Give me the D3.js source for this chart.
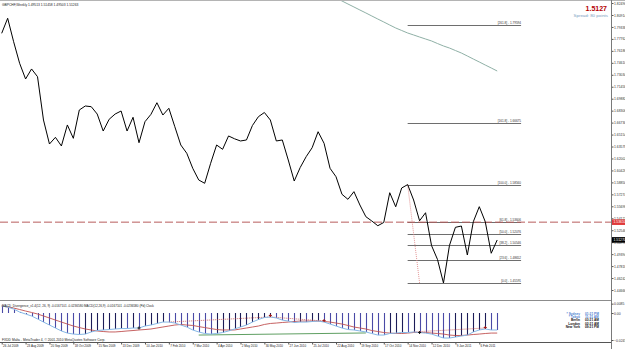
<!DOCTYPE html>
<html>
<head>
<meta charset="utf-8">
<script src="https://cdn.jsdelivr.net/npm/d3@7"></script>
<style>
  html, body { margin: 0; padding: 0; background: #fff; }
  svg { display: block; font-family: "Liberation Sans", Arial, sans-serif; }
</style>
</head>
<body>
<svg id="chart" width="625" height="349"></svg>
<script>
// Weekly closes GBPCHF, 26 Jul 2009 .. 13 Feb 2011
const closes = [
  1.7850, 1.8048, 1.7739, 1.7455, 1.7248, 1.7380, 1.7278, 1.6707, 1.6391, 1.6479,
  1.6365, 1.6642, 1.6466, 1.6839, 1.6892, 1.6883, 1.6786, 1.6562, 1.6717, 1.6786,
  1.6826, 1.6562, 1.6743, 1.6408, 1.6685, 1.6782, 1.6935, 1.6773, 1.6862, 1.6619,
  1.6378, 1.6269, 1.6071, 1.5917, 1.5873, 1.6137, 1.6378, 1.6321, 1.6497, 1.6460,
  1.6431, 1.6444, 1.6635, 1.6751, 1.6806, 1.6707, 1.6431, 1.6444, 1.6180, 1.5903,
  1.6081, 1.6224, 1.6342, 1.6553, 1.6400, 1.6071, 1.5960, 1.5728, 1.5662, 1.5763,
  1.5587, 1.5433, 1.5376, 1.5314, 1.5357, 1.5749, 1.5564, 1.5811, 1.5856, 1.5653,
  1.5379, 1.5485, 1.5053, 1.4869, 1.4559, 1.5053, 1.5293, 1.5310, 1.4928, 1.5367,
  1.5565, 1.5367, 1.4951, 1.5126
];

// long moving average, only visible from week 56 on
const maStart = 56;
const maValues = [
  1.8315, 1.8276, 1.8236, 1.8197, 1.8157, 1.8118, 1.8078, 1.8038, 1.7999, 1.7959,
  1.7920, 1.7887, 1.7854, 1.7828, 1.7801, 1.7775, 1.7749, 1.7715, 1.7683, 1.7656,
  1.7623, 1.7590, 1.7551, 1.7511, 1.7472, 1.7432, 1.7393, 1.7353
];

// MACD window
const macdMain = [
  0.0064, 0.0054, 0.0036, 0.0009, -0.0009, -0.0027, -0.0054, -0.0082, -0.0109, -0.0136,
  -0.0163, -0.0182, -0.0191, -0.0195, -0.0191, -0.0172, -0.0159, -0.0154, -0.0150, -0.0145,
  -0.0141, -0.0141, -0.0136, -0.0136, -0.0118, -0.0109, -0.0095, -0.0082, -0.0082, -0.0091,
  -0.0109, -0.0127, -0.0154, -0.0172, -0.0186, -0.0191, -0.0186, -0.0177, -0.0163, -0.0145,
  -0.0127, -0.0109, -0.0082, -0.0059, -0.0041, -0.0036, -0.0045, -0.0064, -0.0073, -0.0086,
  -0.0082, -0.0082, -0.0077, -0.0073, -0.0082, -0.0100, -0.0118, -0.0136, -0.0150, -0.0154,
  -0.0163, -0.0172, -0.0186, -0.0200, -0.0200, -0.0186, -0.0182, -0.0177, -0.0177, -0.0172,
  -0.0177, -0.0182, -0.0191, -0.0209, -0.0227, -0.0227, -0.0218, -0.0209, -0.0200, -0.0172,
  -0.0154, -0.0145, -0.0154, -0.0154
];
const macdSignal = [
  0.0064, 0.0054, 0.0045, 0.0032, 0.0018, 0.0005, -0.0009, -0.0027, -0.0045, -0.0064,
  -0.0082, -0.0100, -0.0118, -0.0132, -0.0145, -0.0154, -0.0163, -0.0168, -0.0172, -0.0172,
  -0.0168, -0.0163, -0.0159, -0.0154, -0.0150, -0.0145, -0.0136, -0.0127, -0.0118, -0.0109,
  -0.0104, -0.0109, -0.0113, -0.0123, -0.0132, -0.0141, -0.0150, -0.0154, -0.0154, -0.0154,
  -0.0145, -0.0136, -0.0127, -0.0118, -0.0104, -0.0095, -0.0091, -0.0086, -0.0082, -0.0077,
  -0.0073, -0.0073, -0.0073, -0.0073, -0.0077, -0.0082, -0.0091, -0.0100, -0.0113, -0.0127,
  -0.0136, -0.0145, -0.0159, -0.0168, -0.0177, -0.0182, -0.0186, -0.0186, -0.0182, -0.0177,
  -0.0177, -0.0177, -0.0182, -0.0186, -0.0191, -0.0200, -0.0204, -0.0204, -0.0200, -0.0195,
  -0.0191, -0.0186, -0.0182, -0.0182
];
const greenLine = [[33, -0.0200], [61, -0.0181]];
const divergenceLines = [
  [[28, -0.0082], [45, -0.0036]],
  [[45, -0.0036], [54, -0.0073]],
  [[69, -0.0172], [81, -0.0136]]
];
const redMarks = [45, 54, 81];
const blackMarks = [23, 70];

// fibonacci retracement drawn from week 68 high to week 74 low
const fibLevels = ["0.0", "23.6", "38.2", "50.0", "61.8", "100.0", "161.8", "261.8"];
const fibPrices = [1.45591, 1.48652, 1.50546, 1.52076, 1.53606, 1.58560, 1.66675, 1.79594];
const fibFrom = 68, fibTo = 87;
const trendFrom = [68, 1.58560], trendTo = [70, 1.45591];
const hLinePrice = 1.53610;
const bidPrice = 1.51270;

const dateLabels = [
  "26 Jul 2009", "23 Aug 2009", "20 Sep 2009", "18 Oct 2009", "15 Nov 2009", "13 Dec 2009",
  "10 Jan 2010", "7 Feb 2010", "7 Mar 2010", "4 Apr 2010", "2 May 2010", "30 May 2010",
  "27 Jun 2010", "25 Jul 2010", "22 Aug 2010", "19 Sep 2010", "17 Oct 2010", "14 Nov 2010",
  "12 Dec 2010", "9 Jan 2011", "6 Feb 2011"
];
const priceTicks = [
  1.82490, 1.80914, 1.79338, 1.77762, 1.76186, 1.74610, 1.73034, 1.71458, 1.69882, 1.68306,
  1.66730, 1.65154, 1.63578, 1.62002, 1.60426, 1.58850, 1.57274, 1.55698, 1.54122, 1.52546,
  1.50970, 1.49394, 1.47818, 1.46242, 1.44666
];
const macdTicks = [0.0085, 0, -0.0245];
const clocks = [
  ["* Sydney", "01:21 PM"], ["* Tokyo", "11:21 AM"], ["Berlin", "03:21 AM"],
  ["London", "02:21 AM"], ["New York", "09:21 PM"]
];

const svg = d3.select('#chart');
const axisX = 611;
const mainBottom = 300, macdBottom = 342;

const x = d3.scaleLinear().domain([0, 83]).range([1.7, 497.2]);
const y = d3.scaleLinear().domain([1.43614, 1.82889]).range([298, 0]);
const ym = d3.scaleLinear().domain([-0.0254, 0.0100]).range([341, 302]);

svg.append('rect').attr('width', 625).attr('height', 349).attr('fill', '#fff');

svg.append('defs').append('clipPath').attr('id', 'mainClip')
  .append('rect').attr('x', 0).attr('y', 1).attr('width', axisX).attr('height', mainBottom - 1);

const main = svg.append('g').attr('clip-path', 'url(#mainClip)');

// fibonacci levels
fibPrices.forEach((p, i) => {
  main.append('line')
    .attr('x1', x(fibFrom)).attr('x2', x(fibTo))
    .attr('y1', Math.round(y(p)) + 0.5).attr('y2', Math.round(y(p)) + 0.5)
    .attr('stroke', '#6e6e6e').attr('stroke-width', 1);
  main.append('text')
    .attr('x', x(fibTo)).attr('y', Math.round(y(p)) - 0.6)
    .attr('text-anchor', 'end')
    .attr('font-size', 3.1).attr('fill', '#333')
    .text(`[${fibLevels[i]}] - ${p.toFixed(5)}`);
});

// fib trend line
main.append('line')
  .attr('x1', x(trendFrom[0])).attr('y1', y(trendFrom[1]))
  .attr('x2', x(trendTo[0])).attr('y2', y(trendTo[1]))
  .attr('stroke', '#e08a8a').attr('stroke-width', 0.9)
  .attr('stroke-dasharray', '1,1');

// user horizontal line
main.append('line')
  .attr('x1', 0).attr('x2', axisX)
  .attr('y1', y(hLinePrice)).attr('y2', y(hLinePrice))
  .attr('stroke', '#b85c5c').attr('stroke-width', 1)
  .attr('stroke-dasharray', '8,3');

// moving average
main.append('path')
  .datum(maValues)
  .attr('fill', 'none').attr('stroke', '#8fb0a6').attr('stroke-width', 1)
  .attr('d', d3.line().x((d, i) => x(maStart + i)).y(d => y(d)));

// close line
main.append('path')
  .datum(closes)
  .attr('fill', 'none').attr('stroke', '#000').attr('stroke-width', 1)
  .attr('stroke-linejoin', 'round')
  .attr('d', d3.line().x((d, i) => x(i)).y(d => y(d)));

// header texts
svg.append('rect').attr('x', 0).attr('y', 0).attr('width', 625).attr('height', 1).attr('fill', '#b4b4b4');
svg.append('text').attr('x', 2).attr('y', 6).attr('font-size', 3.3).attr('fill', '#222')
  .text('GBPCHF,Weekly  1.49513 1.51458 1.49503 1.51263');
svg.append('text').attr('x', 607).attr('y', 11).attr('text-anchor', 'end')
  .attr('font-size', 7).attr('font-weight', 'bold').attr('fill', '#b40000')
  .text('1.5127');
svg.append('text').attr('x', 608).attr('y', 16.5).attr('text-anchor', 'end')
  .attr('font-size', 4.4).attr('fill', '#7a9cc0')
  .text('Spread: 80 points');

// window separators
svg.append('line').attr('x1', 0).attr('x2', axisX).attr('y1', mainBottom + 0.5).attr('y2', mainBottom + 0.5)
  .attr('stroke', '#8c8c8c');
svg.append('line').attr('x1', 0).attr('x2', axisX).attr('y1', macdBottom + 0.5).attr('y2', macdBottom + 0.5)
  .attr('stroke', '#555');

// price axis
const pAxis = svg.append('g')
  .attr('transform', `translate(${axisX + 0.5},0)`)
  .call(d3.axisRight(y).tickValues(priceTicks).tickSize(2).tickSizeOuter(0).tickFormat(d3.format('.5f')));
pAxis.select('.domain').remove();
pAxis.selectAll('line').attr('stroke', '#555');
pAxis.selectAll('text').attr('x', 2.5).attr('font-size', 3.4).attr('fill', '#333').attr('font-family', null);

svg.append('line').attr('x1', axisX + 0.5).attr('x2', axisX + 0.5).attr('y1', 0).attr('y2', 349)
  .attr('stroke', '#7a7a7a');

// price markers on axis
[[hLinePrice, '#e03a3a'], [bidPrice, '#000']].forEach(([p, c]) => {
  svg.append('rect').attr('x', axisX + 1).attr('y', y(p) - 2.8).attr('width', 14).attr('height', 5.6).attr('fill', c);
  svg.append('text').attr('x', axisX + 2.5).attr('y', y(p) + 1.3)
    .attr('font-size', 3.4).attr('fill', '#fff').text(p.toFixed(5));
});

// MACD window
const macd = svg.append('g');
macd.selectAll('.bar')
  .data(macdMain)
  .enter().append('line')
  .attr('class', 'bar')
  .attr('x1', (d, i) => Math.round(x(i)) + 0.5).attr('x2', (d, i) => Math.round(x(i)) + 0.5)
  .attr('y1', ym(0)).attr('y2', d => ym(d))
  .attr('stroke', (d, i) => (i > 0 && d > macdMain[i - 1]) ? '#1c1c58' : '#4a4aa6')
  .attr('stroke-width', 1.1);

macd.append('path')
  .datum(greenLine)
  .attr('fill', 'none').attr('stroke', '#5f9f62').attr('stroke-width', 1)
  .attr('d', d3.line().x(d => x(d[0])).y(d => ym(d[1])));

divergenceLines.forEach(seg => {
  macd.append('path')
    .datum(seg)
    .attr('fill', 'none').attr('stroke', '#c04848').attr('stroke-width', 0.8)
    .attr('stroke-dasharray', '1,1')
    .attr('d', d3.line().x(d => x(d[0])).y(d => ym(d[1])));
});

macd.append('path')
  .datum(macdSignal)
  .attr('fill', 'none').attr('stroke', '#c05050').attr('stroke-width', 0.9)
  .attr('d', d3.line().x((d, i) => x(i)).y(d => ym(d)));

macd.append('path')
  .datum(macdMain)
  .attr('fill', 'none').attr('stroke', '#86b8e6').attr('stroke-width', 1)
  .attr('d', d3.line().x((d, i) => x(i)).y(d => ym(d)));

const sym = d3.symbol().type(d3.symbolCross).size(5);
redMarks.forEach(i => {
  macd.append('path').attr('d', sym).attr('fill', '#a01818')
    .attr('transform', `translate(${x(i)},${ym(macdMain[i]) - 1.5})`);
});
blackMarks.forEach(i => {
  macd.append('path').attr('d', sym).attr('fill', '#111')
    .attr('transform', `translate(${x(i)},${ym(macdMain[i])})`);
});

macd.append('text').attr('x', 2).attr('y', 307).attr('font-size', 3.1).attr('fill', '#222')
  .text('MACD_Divergence_v1.4(12, 26, 9)  -0.0167101  -0.0236580  MACD(12,26,9)  -0.0167101  -0.0236580  (Pd) Clock');
macd.append('text').attr('x', 2).attr('y', 340.5).attr('font-size', 3.3).attr('fill', '#222')
  .text('FXDD Malta - MetaTrader 4, \u00a9 2001-2010 MetaQuotes Software Corp.');

clocks.forEach(([name, time], i) => {
  const cy = 314.5 + i * 3.4;
  const col = i < 2 ? '#4f7fd0' : '#111';
  macd.append('text').attr('x', 580).attr('y', cy).attr('text-anchor', 'end')
    .attr('font-size', 3.2).attr('font-weight', 'bold').attr('fill', col).text(name);
  macd.append('text').attr('x', 585).attr('y', cy)
    .attr('font-size', 3.2).attr('font-weight', 'bold').attr('fill', col).text(time);
});

// MACD axis
const mAxis = svg.append('g')
  .attr('transform', `translate(${axisX + 0.5},0)`)
  .call(d3.axisRight(ym).tickValues(macdTicks).tickSize(2)
    .tickFormat(d => d === 0 ? '0.00' : d3.format('.4f')(d)));
mAxis.select('.domain').remove();
mAxis.selectAll('line').attr('stroke', '#555');
mAxis.selectAll('text').attr('x', 2.5).attr('font-size', 3.4).attr('fill', '#333').attr('font-family', null);

// time axis
const tAxis = svg.append('g')
  .attr('transform', `translate(0,${macdBottom + 0.5})`)
  .call(d3.axisBottom(x).tickValues(d3.range(0, 81, 4)).tickSize(2).tickSizeOuter(0)
    .tickFormat((d, i) => dateLabels[i]));
tAxis.select('.domain').remove();
tAxis.selectAll('line').attr('stroke', '#555');
tAxis.selectAll('text').attr('text-anchor', 'start').attr('x', 0.8).attr('y', 2.2)
  .attr('font-size', 3).attr('fill', '#222').attr('font-family', null);
</script>
</body>
</html>
